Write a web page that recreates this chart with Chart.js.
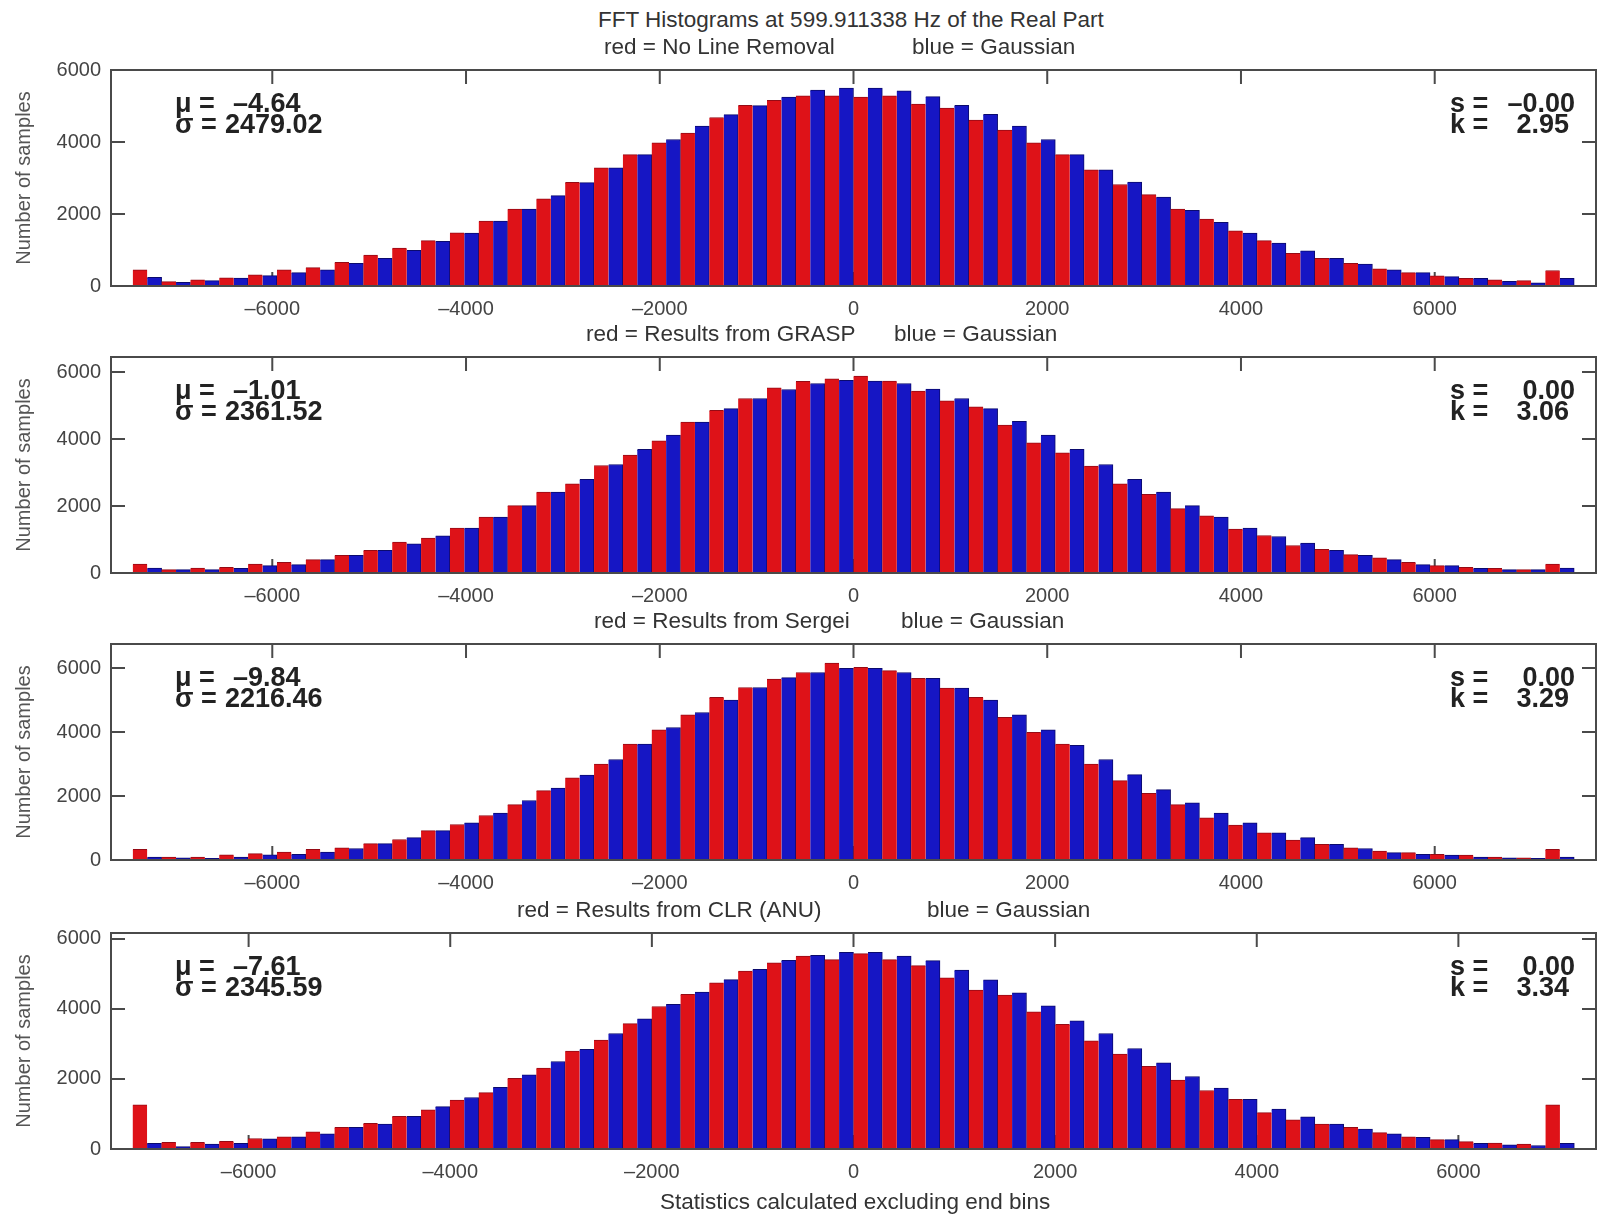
<!DOCTYPE html>
<html>
<head>
<meta charset="utf-8">
<script src="https://cdn.jsdelivr.net/npm/chart.js@4.4.1/dist/chart.umd.min.js"></script>
<style>
  body { margin: 0; background: #fff; }
  #page { position: relative; width: 1597px; height: 1215px; overflow: hidden; font-family: "Liberation Sans", Arial, sans-serif; color: #333; }
  .txt { position: absolute; white-space: pre; font-size: 22.5px; line-height: 1; transform: translateY(-50%); }
  canvas { position: absolute; left: 0; }
</style>
</head>
<body>
<div id="page">
  <canvas id="h0" width="1597" height="275" style="top:56px"></canvas>
  <canvas id="h1" width="1597" height="275" style="top:343px"></canvas>
  <canvas id="h2" width="1597" height="275" style="top:630px"></canvas>
  <canvas id="h3" width="1597" height="275" style="top:919px"></canvas>

  <div class="txt" style="left:598px;top:20px">FFT Histograms at 599.911338 Hz of the Real Part</div>
  <div class="txt" style="left:604px;top:47px">red = No Line Removal</div>
  <div class="txt" style="left:912px;top:47px">blue = Gaussian</div>
  <div class="txt" style="left:586px;top:334px">red = Results from GRASP</div>
  <div class="txt" style="left:894px;top:334px">blue = Gaussian</div>
  <div class="txt" style="left:594px;top:621px">red = Results from Sergei</div>
  <div class="txt" style="left:901px;top:621px">blue = Gaussian</div>
  <div class="txt" style="left:517px;top:910px">red = Results from CLR (ANU)</div>
  <div class="txt" style="left:927px;top:910px">blue = Gaussian</div>
  <div class="txt" style="left:660px;top:1202px">Statistics calculated excluding end bins</div>
</div>
<script>
// ticks
const xTicks = [-6000, -4000, -2000, 0, 2000, 4000, 6000];
const yTicks = [0, 2000, 4000, 6000];

// histogram bins (50 per panel) and axis ranges
const nBins = 50;
const binLo = [-7440, -7440, -7440, -7150];
const binHi = [7440, 7440, 7440, 7150];
const xRange = [7665, 7665, 7665, 7365];
const yMax = [6000, 6450, 6750, 6170];

// red = result, blue = Gaussian
const red0 = [450, 120, 170, 230, 310, 450, 510, 660, 860, 1050, 1260, 1480, 1800, 2140, 2420, 2880, 3280, 3650, 3980, 4250, 4680, 5020, 5160, 5280, 5280, 5250, 5280, 5050, 4940, 4610, 4330, 3980, 3650, 3230, 2820, 2540, 2140, 1860, 1530, 1260, 910, 770, 630, 480, 370, 280, 210, 170, 150, 430];
const blue0 = [240, 100, 150, 220, 290, 370, 450, 630, 770, 990, 1240, 1470, 1800, 2140, 2510, 2870, 3280, 3650, 4070, 4440, 4760, 5010, 5250, 5440, 5500, 5500, 5420, 5260, 5020, 4770, 4440, 4070, 3650, 3230, 2890, 2470, 2100, 1770, 1470, 1190, 980, 770, 610, 450, 370, 260, 210, 130, 90, 210];

const red1 = [270, 100, 150, 170, 270, 320, 400, 530, 680, 920, 1040, 1340, 1670, 2010, 2420, 2660, 3210, 3520, 3950, 4510, 4860, 5210, 5530, 5720, 5800, 5880, 5730, 5430, 5140, 4960, 4420, 3890, 3590, 3190, 2660, 2350, 1920, 1710, 1310, 1120, 820, 710, 550, 450, 320, 220, 170, 140, 100, 270];
const blue1 = [150, 100, 100, 140, 220, 250, 400, 530, 680, 870, 1110, 1340, 1670, 2010, 2420, 2800, 3240, 3690, 4120, 4510, 4910, 5210, 5480, 5660, 5750, 5730, 5660, 5490, 5210, 4910, 4530, 4120, 3690, 3240, 2800, 2420, 2010, 1670, 1340, 1090, 890, 680, 530, 400, 250, 220, 140, 100, 100, 150];

const red2 = [330, 90, 90, 160, 200, 250, 330, 380, 510, 640, 920, 1110, 1390, 1730, 2170, 2570, 3000, 3620, 4070, 4540, 5080, 5390, 5650, 5860, 6150, 6020, 5920, 5680, 5370, 5080, 4460, 3990, 3620, 3000, 2480, 2080, 1730, 1320, 1090, 850, 620, 490, 380, 280, 230, 180, 150, 90, 70, 330];
const blue2 = [90, 70, 50, 90, 160, 180, 250, 360, 510, 700, 920, 1160, 1470, 1860, 2250, 2650, 3140, 3620, 4140, 4610, 5000, 5390, 5700, 5860, 5990, 5990, 5860, 5680, 5370, 5000, 4540, 4070, 3580, 3140, 2670, 2200, 1790, 1470, 1160, 850, 700, 490, 360, 230, 180, 150, 90, 70, 50, 90];

const red3 = [1260, 190, 190, 220, 300, 350, 490, 620, 730, 930, 1120, 1400, 1610, 2020, 2310, 2800, 3110, 3580, 4070, 4420, 4750, 5080, 5320, 5510, 5410, 5580, 5410, 5240, 4890, 4540, 4400, 3920, 3560, 3090, 2710, 2360, 1970, 1670, 1420, 1040, 830, 710, 620, 470, 350, 270, 210, 170, 140, 1260];
const blue3 = [160, 70, 140, 160, 290, 350, 430, 620, 710, 930, 1210, 1470, 1760, 2120, 2500, 2850, 3300, 3720, 4130, 4480, 4840, 5130, 5390, 5530, 5620, 5620, 5510, 5380, 5110, 4830, 4460, 4090, 3660, 3300, 2870, 2460, 2070, 1740, 1420, 1140, 920, 710, 570, 430, 330, 270, 160, 120, 100, 160];

// statistics printed in each panel
const muTxt = ['\u20134.64', '\u20131.01', '\u20139.84', '\u20137.61'];
const sigmaTxt = ['2479.02', '2361.52', '2216.46', '2345.59'];
const skewTxt = ['\u20130.00', '0.00', '0.00', '0.00'];
const kurtTxt = ['2.95', '3.06', '3.29', '3.34'];

const reds = [red0, red1, red2, red3];
const blues = [blue0, blue1, blue2, blue3];

Chart.defaults.font.family = '"Liberation Sans", Arial, sans-serif';

const AXIS = '#4a4a4a';
const TICK_LEN = 14;

const marco = {
  id: 'marco',
  beforeDatasetsDraw(chart) {
    const { ctx, chartArea: a, scales } = chart;
    ctx.save();
    ctx.strokeStyle = AXIS;
    ctx.lineWidth = 2;
    ctx.beginPath();
    xTicks.forEach((v) => {
      const px = scales.x.getPixelForValue(v);
      ctx.moveTo(px, a.bottom);
      ctx.lineTo(px, a.bottom - TICK_LEN);
    });
    ctx.stroke();
    ctx.restore();
  },
  afterDatasetsDraw(chart) {
    const { ctx, chartArea: a, scales } = chart;
    ctx.save();
    ctx.strokeStyle = AXIS;
    ctx.lineWidth = 2;
    ctx.strokeRect(a.left, a.top, a.right - a.left, a.bottom - a.top);
    ctx.beginPath();
    xTicks.forEach((v) => {
      const px = scales.x.getPixelForValue(v);
      ctx.moveTo(px, a.top);
      ctx.lineTo(px, a.top + TICK_LEN);
    });
    yTicks.forEach((v) => {
      const py = scales.y.getPixelForValue(v);
      ctx.moveTo(a.left, py);
      ctx.lineTo(a.left + TICK_LEN, py);
      ctx.moveTo(a.right, py);
      ctx.lineTo(a.right - TICK_LEN, py);
    });
    ctx.stroke();
    ctx.restore();
  },
  afterDraw(chart, args, opts) {
    const { ctx, chartArea: a } = chart;
    ctx.save();
    ctx.fillStyle = '#222';
    ctx.font = 'bold 27px "Liberation Sans", Arial, sans-serif';
    ctx.textBaseline = 'middle';
    const y1 = a.top + 35, y2 = a.top + 56;
    ctx.textAlign = 'left';
    ctx.fillText('\u03bc =', a.left + 64, y1);
    ctx.fillText('\u03c3 =', a.left + 64, y2);
    ctx.fillText(opts.mu, a.left + 122, y1);
    ctx.fillText(opts.sigma, a.left + 114, y2);
    ctx.fillText('s =', a.left + 1339, y1);
    ctx.fillText('k =', a.left + 1339, y2);
    ctx.textAlign = 'right';
    ctx.fillText(opts.s, a.left + 1464, y1);
    ctx.fillText(opts.k, a.left + 1458, y2);
    ctx.restore();
  },
};

let charts = {};

function crearHistograma(p) {
  const id = 'h' + p;
  const w = (binHi[p] - binLo[p]) / nBins;
  const centros = reds[p].map((_, i) => binLo[p] + (i + 0.5) * w);

  charts[id] = new Chart(document.getElementById(id), {
    type: 'bar',
    data: {
      datasets: [
        {
          label: 'red',
          data: reds[p].map((v, i) => ({ x: centros[i], y: v })),
          backgroundColor: 'rgb(222,18,24)',
          borderColor: 'rgb(150,10,20)',
          borderWidth: { top: 1, left: 0, right: 0, bottom: 0 },
        },
        {
          label: 'blue',
          data: blues[p].map((v, i) => ({ x: centros[i], y: v })),
          backgroundColor: 'rgb(22,22,196)',
          borderColor: 'rgb(10,10,110)',
          borderWidth: { top: 1, left: 0, right: 1, bottom: 0 },
        },
      ],
    },
    options: {
      responsive: false,
      animation: false,
      devicePixelRatio: 1,
      barPercentage: 1,
      categoryPercentage: 1,
      layout: { padding: { top: 14, right: 1, left: 0, bottom: 0 } },
      plugins: {
        legend: { display: false },
        tooltip: { enabled: false },
        marco: { mu: muTxt[p], sigma: sigmaTxt[p], s: skewTxt[p], k: kurtTxt[p] },
      },
      scales: {
        x: {
          type: 'linear',
          offset: false,
          min: -xRange[p],
          max: xRange[p],
          grid: { display: false, drawTicks: false },
          border: { display: false },
          afterBuildTicks: (s) => { s.ticks = xTicks.map((v) => ({ value: v })); },
          afterFit: (s) => { s.height = 45; s.paddingLeft = 0; s.paddingRight = 0; },
          ticks: {
            padding: 11,
            color: '#444',
            font: { size: 20 },
            maxRotation: 0,
            autoSkip: false,
            callback: (v) => String(v).replace('-', '\u2013'),
          },
        },
        y: {
          min: 0,
          max: yMax[p],
          grid: { display: false, drawTicks: false },
          border: { display: false },
          afterBuildTicks: (s) => { s.ticks = yTicks.map((v) => ({ value: v })); },
          afterFit: (s) => { s.width = 111; s.paddingTop = 0; s.paddingBottom = 0; },
          ticks: { padding: 10, color: '#444', font: { size: 20 }, callback: (v) => String(v) },
          title: {
            display: true,
            text: 'Number of samples',
            color: '#555',
            font: { size: 20 },
            padding: { top: 12, bottom: 0 },
          },
        },
      },
    },
    plugins: [marco],
  });
}

[0, 1, 2, 3].forEach(crearHistograma);
</script>
</body>
</html>
